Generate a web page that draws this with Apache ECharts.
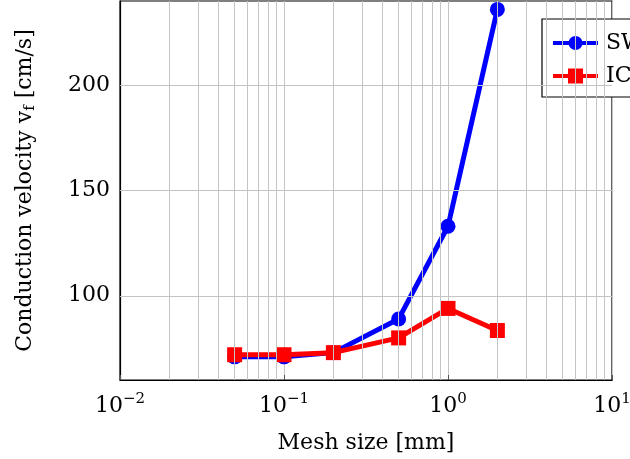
<!DOCTYPE html>
<html>
<head>
<meta charset="utf-8">
<script src="https://cdn.jsdelivr.net/npm/echarts@6/dist/echarts.min.js"></script>
<style>
html,body{margin:0;padding:0;background:#fff;}
#chart{width:630px;height:459px;}
</style>
</head>
<body>
<div id="chart"></div>
<script>
// ---- data ----
const meshSizes = [0.05, 0.1, 0.2, 0.5, 1, 2];
const swValues = [71, 71, 73, 89, 133, 236];
const icValues = [72, 72, 73, 80, 94, 83.5];
const seriesNames = ['SWM', 'ICM'];
const yTickValues = [100, 150, 200];
const xDecades = [0.01, 0.1, 1, 10];

// minor log grid values (2..9 within each decade)
const minorX = [];
for (let d = 0; d < xDecades.length - 1; d++) {
  for (let k = 2; k <= 9; k++) minorX.push(+(xDecades[d] * k).toPrecision(3));
}

const FONT = 'DejaVu Serif';
const chart = echarts.init(document.getElementById('chart'), null, {renderer: 'canvas'});

function pairs(xs, ys) { return xs.map((x, i) => [x, ys[i]]); }

// legend icons: a solid bar with marker in the middle
const iconCircle = 'path://M0,5.5 H45 V9.5 H0 Z M15.5,7.5 A7,7 0 1,1 29.5,7.5 A7,7 0 1,1 15.5,7.5 Z';
const iconSquare = 'path://M0,5.5 H15 V0 H30 V5.5 H45 V9.5 H30 V15 H15 V9.5 H0 Z';

const option = {
  animation: false,
  backgroundColor: '#fff',
  grid: {
    left: 120, right: 18, top: 1, bottom: 79,
    show: true, borderColor: '#000', borderWidth: 1.2,
    containLabel: false, outerBoundsMode: 'none'
  },
  xAxis: {
    type: 'log', logBase: 10, min: 0.01, max: 10,
    name: 'Mesh size [mm]', nameLocation: 'middle', nameGap: 52,
    nameTextStyle: {fontFamily: FONT, fontSize: 22, color: '#000'},
    axisLine: {show: true, lineStyle: {color: '#000', width: 1.2}},
    axisTick: {show: true, inside: true, length: 5, lineStyle: {color: '#555'}},
    splitLine: {show: true, lineStyle: {color: '#c4c4c4', width: 1}},
    axisLabel: {
      margin: 12,
      formatter: function (v) {
        const e = Math.round(Math.log10(v));
        return '{b|10}{s|' + (e < 0 ? '\u2212' + (-e) : e) + '}';
      },
      rich: {
        b: {fontFamily: FONT, fontSize: 22, color: '#000'},
        s: {fontFamily: FONT, fontSize: 15, color: '#000', padding: [0, 0, 14, 0]}
      }
    }
  },
  yAxis: {
    type: 'value', min: 60, max: 240,
    name: '{a|Conduction velocity v}{sub|f}{a| [cm/s]}',
    nameLocation: 'middle', nameGap: 82, nameRotate: 90,
    nameTextStyle: {
      rich: {
        a: {fontFamily: FONT, fontSize: 22, color: '#000'},
        sub: {fontFamily: FONT, fontSize: 15, color: '#000', padding: [10, 0, 0, 0]}
      }
    },
    axisLine: {show: true, lineStyle: {color: '#000', width: 1.2}},
    axisTick: {show: false},
    splitLine: {show: false},
    axisLabel: {
      customValues: yTickValues,
      margin: 10,
      fontFamily: FONT, fontSize: 22, color: '#000'
    }
  },
  legend: {
    data: [
      {name: seriesNames[0], icon: iconCircle},
      {name: seriesNames[1], icon: iconSquare}
    ],
    orient: 'vertical',
    left: 542, top: 19,
    padding: [13, 30, 10, 11],
    itemGap: 11,
    itemWidth: 45, itemHeight: 15,
    borderColor: '#000', borderWidth: 1.2,
    backgroundColor: '#fff',
    textStyle: {fontFamily: FONT, fontSize: 22, color: '#000', padding: [0, 0, 0, 3]}
  },
  series: [
    {
      name: 'grid',
      type: 'line', data: [], silent: true, z: 1,
      markLine: {
        silent: true, symbol: 'none', animation: false,
        label: {show: false},
        lineStyle: {color: '#c4c4c4', width: 1, type: 'solid'},
        data: minorX.map(v => ({xAxis: v})).concat(yTickValues.map(v => ({yAxis: v})))
      }
    },
    {
      name: seriesNames[0], type: 'line', z: 3,
      data: pairs(meshSizes, swValues),
      symbol: 'circle', symbolSize: 15,
      lineStyle: {color: '#0000ff', width: 5},
      itemStyle: {color: '#0000ff'}
    },
    {
      name: seriesNames[1], type: 'line', z: 4,
      data: pairs(meshSizes, icValues),
      symbol: 'rect', symbolSize: 15,
      lineStyle: {color: '#ff0000', width: 5},
      itemStyle: {color: '#ff0000'}
    }
  ]
};
chart.setOption(option);
</script>
</body>
</html>
